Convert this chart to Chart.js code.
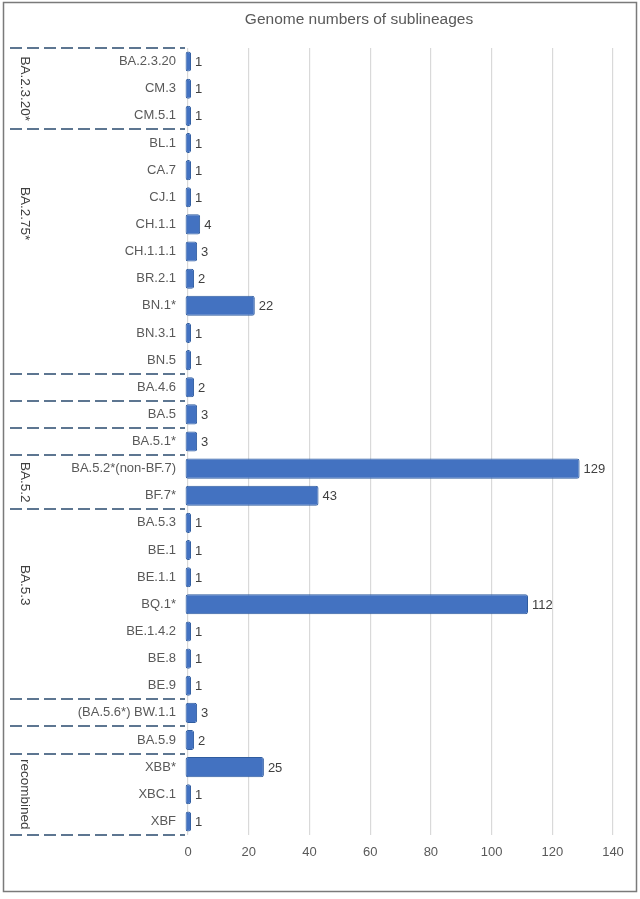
<!DOCTYPE html>
<html>
<head>
<meta charset="utf-8">
<script src="https://cdn.jsdelivr.net/npm/chart.js@4/dist/chart.umd.min.js"></script>
<style>
  html, body { margin: 0; padding: 0; background: #fff; }
  canvas { display: block; }
</style>
</head>
<body>
<canvas id="main-chart" width="640" height="899"></canvas>
<script>
const chartTitle = 'Genome numbers of sublineages';

const sublineages = [
  'BA.2.3.20', 'CM.3', 'CM.5.1',
  'BL.1', 'CA.7', 'CJ.1', 'CH.1.1', 'CH.1.1.1', 'BR.2.1', 'BN.1*', 'BN.3.1', 'BN.5',
  'BA.4.6',
  'BA.5',
  'BA.5.1*',
  'BA.5.2*(non-BF.7)', 'BF.7*',
  'BA.5.3', 'BE.1', 'BE.1.1', 'BQ.1*', 'BE.1.4.2', 'BE.8', 'BE.9',
  '(BA.5.6*) BW.1.1',
  'BA.5.9',
  'XBB*', 'XBC.1', 'XBF'
];

const genomeCounts = [
  1, 1, 1,
  1, 1, 1, 4, 3, 2, 22, 1, 1,
  2,
  3,
  3,
  129, 43,
  1, 1, 1, 112, 1, 1, 1,
  3,
  2,
  25, 1, 1
];

// group label and how many sublineages belong to it (top to bottom)
const groupNames = ['BA.2.3.20*', 'BA.2.75*', '', '', '', 'BA.5.2', 'BA.5.3', '', '', 'recombined'];
const groupSizes = [3, 9, 1, 1, 1, 2, 7, 1, 1, 3];

const xTicks = [0, 20, 40, 60, 80, 100, 120, 140];

const FONT = '"Liberation Sans", Arial, sans-serif';

// small nudges (in category rows) for group labels that sit above their group's centre
const labelShift = { 'BA.2.75*': -1.4, 'BA.5.3': -0.7 };
// bars start a touch left of the zero line, like the Excel original
const barStart = -0.8;

const decorations = {
  id: 'decorations',
  beforeDraw(chart) {
    const c = chart.ctx;
    c.save();
    c.fillStyle = '#fff';
    c.fillRect(0, 0, chart.width, chart.height);
    c.strokeStyle = '#7a7a7a';
    c.lineWidth = 1.5;
    c.strokeRect(3.5, 2.5, 633, 889);
    c.fillStyle = '#595959';
    c.font = '15.5px ' + FONT;
    c.textAlign = 'center';
    c.textBaseline = 'middle';
    c.fillText(chartTitle, 359, 20);
    c.restore();
  },
  afterDatasetsDraw(chart) {
    const c = chart.ctx;
    const y = chart.scales.y;
    const meta = chart.getDatasetMeta(0);
    const step = y.getPixelForValue(1) - y.getPixelForValue(0);
    const left = chart.chartArea.left;
    c.save();

    // value labels
    c.fillStyle = '#404040';
    c.font = '13px ' + FONT;
    c.textAlign = 'left';
    c.textBaseline = 'middle';
    meta.data.forEach((bar, i) => {
      c.fillText(String(genomeCounts[i]), bar.x + 4, bar.y + 1);
    });

    // dashed group separators
    c.strokeStyle = '#5d7691';
    c.lineWidth = 2;
    c.setLineDash([12, 5]);
    let start = 0;
    const bounds = [y.getPixelForValue(0) - step / 2];
    groupSizes.forEach(n => {
      start += n;
      bounds.push(y.getPixelForValue(start - 1) + step / 2);
    });
    bounds.forEach(py => {
      c.beginPath();
      c.moveTo(10, Math.round(py));
      c.lineTo(left - 3, Math.round(py));
      c.stroke();
    });
    c.setLineDash([]);

    // rotated group labels
    c.fillStyle = '#404040';
    c.font = '13.5px ' + FONT;
    c.textAlign = 'center';
    start = 0;
    groupSizes.forEach((n, g) => {
      const name = groupNames[g];
      if (name) {
        const mid = start + (n - 1) / 2 + (labelShift[name] || 0);
        const py = y.getPixelForValue(mid);
        c.save();
        c.translate(25, py);
        c.rotate(Math.PI / 2);
        c.fillText(name, 0, 0);
        c.restore();
      }
      start += n;
    });
    c.restore();
  }
};

const mainChart = new Chart(document.getElementById('main-chart'), {
  type: 'bar',
  data: {
    labels: sublineages,
    datasets: [{
      label: chartTitle,
      data: genomeCounts.map(v => [barStart, v]),
      clip: false,
      backgroundColor: '#4372c1',
      borderColor: '#2f5c9f',
      borderWidth: 1,
      borderRadius: 2.5,
      borderSkipped: false,
      barPercentage: 0.74,
      categoryPercentage: 1
    }]
  },
  options: {
    indexAxis: 'y',
    responsive: false,
    animation: false,
    devicePixelRatio: 1,
    layout: {
      padding: { top: 48, right: 27, bottom: 0, left: 0 }
    },
    plugins: {
      legend: { display: false },
      tooltip: { enabled: false },
      title: { display: false }
    },
    scales: {
      x: {
        min: 0,
        max: 140,
        afterFit: (scale) => { scale.height = 64; },
        afterBuildTicks: (scale) => { scale.ticks = xTicks.map(v => ({ value: v })); },
        grid: {
          color: '#d9d9d9',
          lineWidth: 1.2,
          drawTicks: false
        },
        border: { display: false },
        ticks: {
          padding: 10,
          color: '#595959',
          font: { family: FONT, size: 13 }
        }
      },
      y: {
        afterFit: (scale) => { scale.width = 188; },
        grid: { display: false, drawTicks: false },
        border: { display: false },
        ticks: {
          padding: 12,
          color: '#595959',
          font: { family: FONT, size: 13 }
        }
      }
    }
  },
  plugins: [decorations]
});
</script>
</body>
</html>
